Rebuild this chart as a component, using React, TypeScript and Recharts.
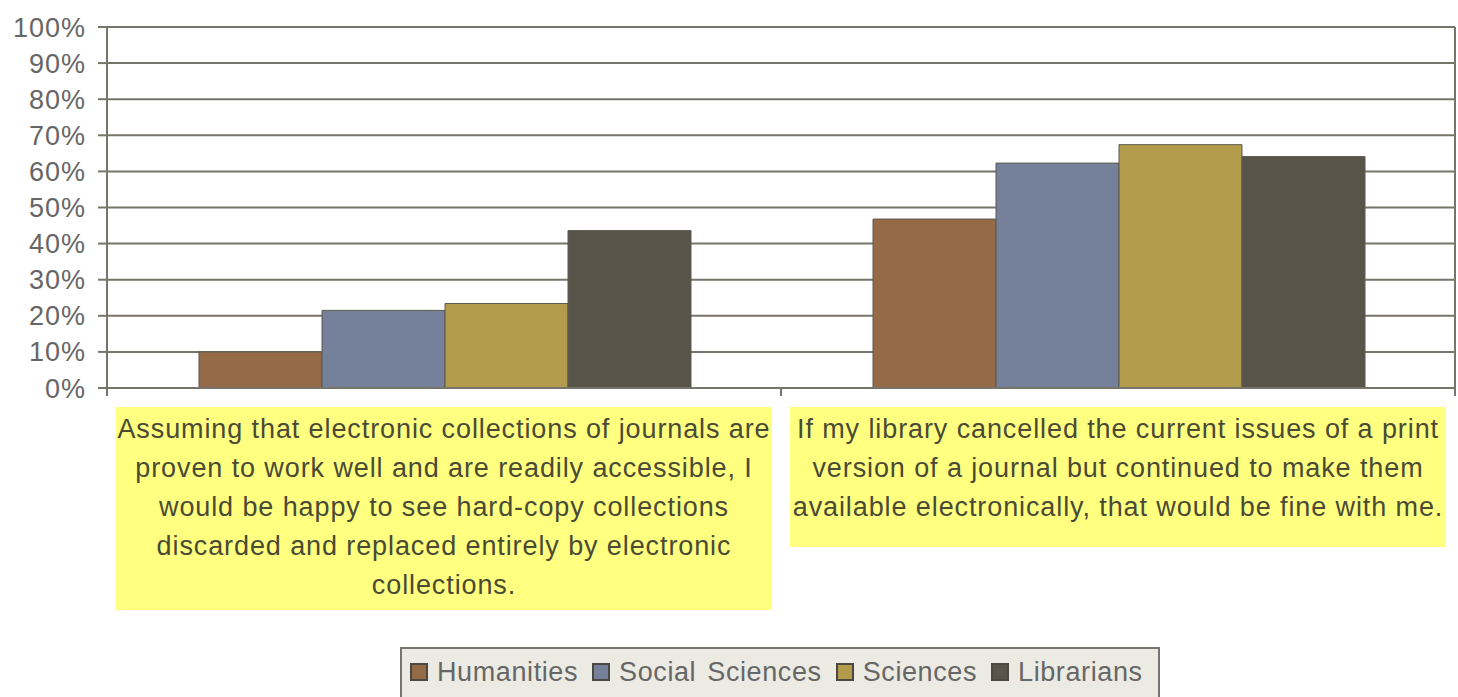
import React from "react";
import { Bar, BarChart, CartesianGrid, Legend, XAxis, YAxis } from "recharts";

const statements = [
  "Assuming that electronic collections of journals are\nproven to work well and are readily accessible, I\nwould be happy to see hard-copy collections\ndiscarded and replaced entirely by electronic\ncollections.",
  "If my library cancelled the current issues of a print\nversion of a journal but continued to make them\navailable electronically, that would be fine with me.",
];
const humanities = [10, 46.8];
const socialSciences = [21.5, 62.3];
const sciences = [23.4, 67.4];
const librarians = [43.6, 64.1];
const percentTicks = [0, 10, 20, 30, 40, 50, 60, 70, 80, 90, 100];

const groups = [
  { key: "humanities", name: "Humanities", color: "#956b47" },
  { key: "socialSciences", name: "Social Sciences", color: "#75819a" },
  { key: "sciences", name: "Sciences", color: "#b29c4c" },
  { key: "librarians", name: "Librarians", color: "#59544a" },
];

const data = statements.map((statement, i) => ({
  statement,
  humanities: humanities[i],
  socialSciences: socialSciences[i],
  sciences: sciences[i],
  librarians: librarians[i],
}));

const FONT = '"Liberation Sans", Arial, sans-serif';
const AXIS = "#77756b";

function StatementTick(props: any) {
  const { x, y, payload } = props;
  const half = payload?.offset ?? 337;
  const lines = String(payload.value).split("\n");
  const lineH = 39;
  const boxW = 656;
  const boxH = Math.max(lines.length * lineH + 8, 140);
  const top = y + 19;
  return (
    <g>
      <line x1={x - half} x2={x - half} y1={y} y2={y + 8} stroke={AXIS} strokeWidth={2} />
      <line x1={x + half} x2={x + half} y1={y} y2={y + 8} stroke={AXIS} strokeWidth={2} />
      <rect x={x - boxW / 2} y={top} width={boxW} height={boxH} fill="#ffff80" />
      <text textAnchor="middle" fontSize={27} letterSpacing={0.9} fontFamily={FONT} fill="#4a4a35">
        {lines.map((line, i) => (
          <tspan key={i} x={x} y={top + 22 + i * lineH} dominantBaseline="central">
            {line}
          </tspan>
        ))}
      </text>
    </g>
  );
}

function LegendBox() {
  return (
    <div style={{ height: 50, position: "relative" }}>
      <div
        style={{
          position: "absolute",
          top: 0,
          left: 0,
          width: 760,
          height: 60,
          border: `2px solid ${AXIS}`,
          background: "#ecebe3",
          display: "flex",
          alignItems: "flex-start",
          paddingLeft: 8,
          boxSizing: "border-box",
          fontFamily: FONT,
          fontSize: 27,
          letterSpacing: 0.6,
          wordSpacing: 3,
          color: "#666",
        }}
      >
        {groups.map((g) => (
          <div key={g.key} style={{ display: "flex", alignItems: "center", marginRight: 14, height: 46 }}>
            <span
              style={{
                width: 18,
                height: 18,
                background: g.color,
                border: "2px solid #4a4840",
                boxSizing: "border-box",
                marginRight: 9,
              }}
            />
            <span>{g.name}</span>
          </div>
        ))}
      </div>
    </div>
  );
}

export default function App() {
  return (
    <div style={{ position: "absolute", left: 0, top: 0, background: "#fff" }}>
      <BarChart
        width={1458}
        height={697}
        data={data}
        margin={{ top: 27, right: 3, left: 0, bottom: 0 }}
        barGap={0}
        barCategoryGap={92}
      >
        <CartesianGrid
          stroke={AXIS}
          strokeWidth={2}
          vertical={true}
          verticalCoordinatesGenerator={({ offset }: any) => [offset.left + offset.width]}
        />
        <XAxis
          dataKey="statement"
          height={259}
          interval={0}
          tickSize={0}
          tickMargin={0}
          tickLine={false}
          axisLine={{ stroke: AXIS, strokeWidth: 2 }}
          tick={<StatementTick />}
        />
        <YAxis
          width={107}
          domain={[0, 100]}
          ticks={percentTicks}
          tickFormatter={(v) => `${v}%`}
          tickSize={9}
          tickMargin={12}
          axisLine={{ stroke: AXIS, strokeWidth: 2 }}
          tickLine={{ stroke: AXIS, strokeWidth: 2 }}
          tick={{ fontSize: 27, letterSpacing: 1, fontFamily: FONT, fill: "#666" }}
        />
        <Legend
          verticalAlign="bottom"
          content={() => <LegendBox />}
          wrapperStyle={{ left: 400, width: 760 }}
        />
        {groups.map((g) => (
          <Bar
            key={g.key}
            dataKey={g.key}
            name={g.name}
            fill={g.color}
            stroke="#5b584f"
            strokeWidth={1}
            isAnimationActive={false}
          />
        ))}
      </BarChart>
    </div>
  );
}
